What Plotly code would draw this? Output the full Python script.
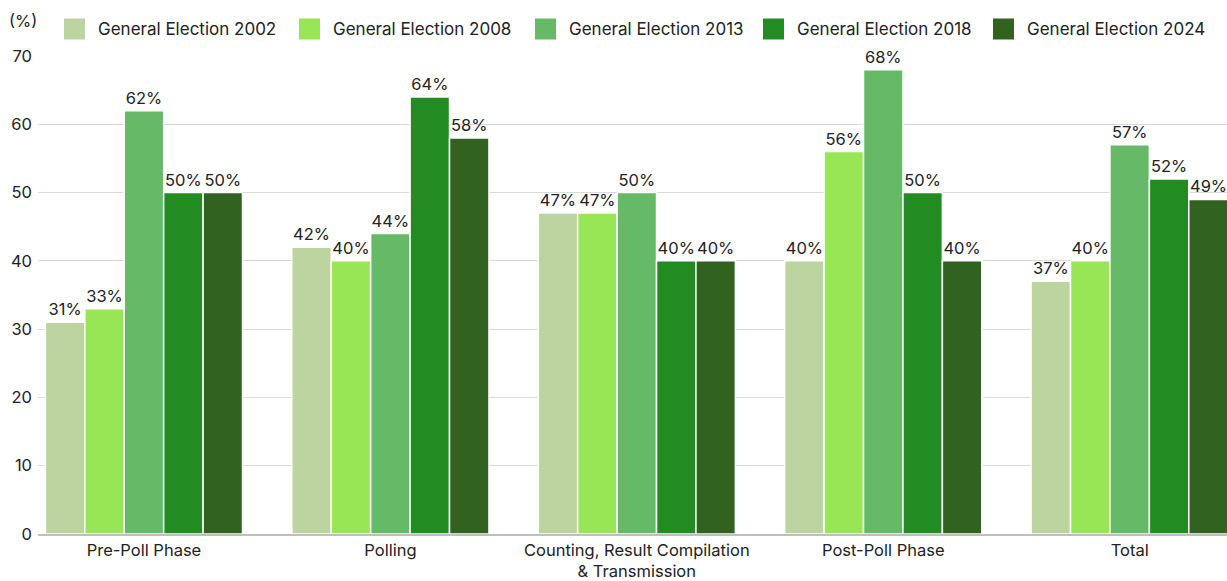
import plotly.graph_objects as go

categories = ["Pre-Poll Phase", "Polling", "Counting, Result Compilation<br>& Transmission",
              "Post-Poll Phase", "Total"]
series_names = ["General Election 2002", "General Election 2008", "General Election 2013",
                "General Election 2018", "General Election 2024"]
values_2002 = [31, 42, 47, 40, 37]
values_2008 = [33, 40, 47, 56, 40]
values_2013 = [62, 44, 50, 68, 57]
values_2018 = [50, 64, 40, 50, 52]
values_2024 = [50, 58, 40, 40, 49]
colors = ["#BCD5A0", "#98E655", "#66B966", "#228B22", "#31621F"]

all_values = [values_2002, values_2008, values_2013, values_2018, values_2024]
font_family = "Inter, Lato, sans-serif"
text_color = "#222222"

W, H = 1227, 581
M_L, M_R, M_T, M_B = 38, 0, 56, 47
plot_w = W - M_L - M_R
plot_h = H - M_T - M_B

fig = go.Figure()
for name, vals, col in zip(series_names, all_values, colors):
    fig.add_trace(go.Bar(
        name=name, x=categories, y=vals,
        marker=dict(color=col, line=dict(color="white", width=1.5)),
        text=[f"{v}%" for v in vals], textposition="outside",
        textfont=dict(size=16.5, color=text_color, family=font_family),
        cliponaxis=False, showlegend=False,
    ))

fig.update_layout(
    width=W, height=H,
    barmode="group", bargap=0.2, bargroupgap=0,
    paper_bgcolor="white", plot_bgcolor="white",
    margin=dict(l=M_L, r=M_R, t=M_T, b=M_B),
    font=dict(family=font_family, size=16.5, color=text_color),
    showlegend=False,
)
fig.update_yaxes(range=[0, 70], dtick=10, showgrid=True, gridcolor="#DADADA", gridwidth=1,
                 zeroline=False, tickfont=dict(size=16.5), ticks="", ticklabelstandoff=5)
fig.update_xaxes(range=[-0.43, 4.395], showline=True, linecolor="#BFBFBF", linewidth=1.5,
                 tickfont=dict(size=16.5), ticks="")


def px_x(x):
    return (x - M_L) / plot_w


def px_y(y):
    return (H - M_B - y) / plot_h


# unit label above the value axis
fig.add_annotation(text="(%)", xref="paper", yref="paper", x=px_x(23), y=px_y(21),
                   showarrow=False, xanchor="center", yanchor="middle",
                   font=dict(size=16.5, color=text_color))

# legend: coloured squares with series names
legend_x = [64, 299, 535, 763, 993]
sq = 21
legend_cy = 29
for lx, name, col in zip(legend_x, series_names, colors):
    fig.add_shape(type="rect", xref="paper", yref="paper",
                  x0=px_x(lx), x1=px_x(lx + sq),
                  y0=px_y(legend_cy + sq / 2), y1=px_y(legend_cy - sq / 2),
                  fillcolor=col, line=dict(width=0))
    fig.add_annotation(text=name, xref="paper", yref="paper",
                       x=px_x(lx + 32), y=px_y(legend_cy), showarrow=False,
                       xanchor="left", yanchor="middle",
                       font=dict(size=17, color=text_color))

fig.write_html("out.html")
